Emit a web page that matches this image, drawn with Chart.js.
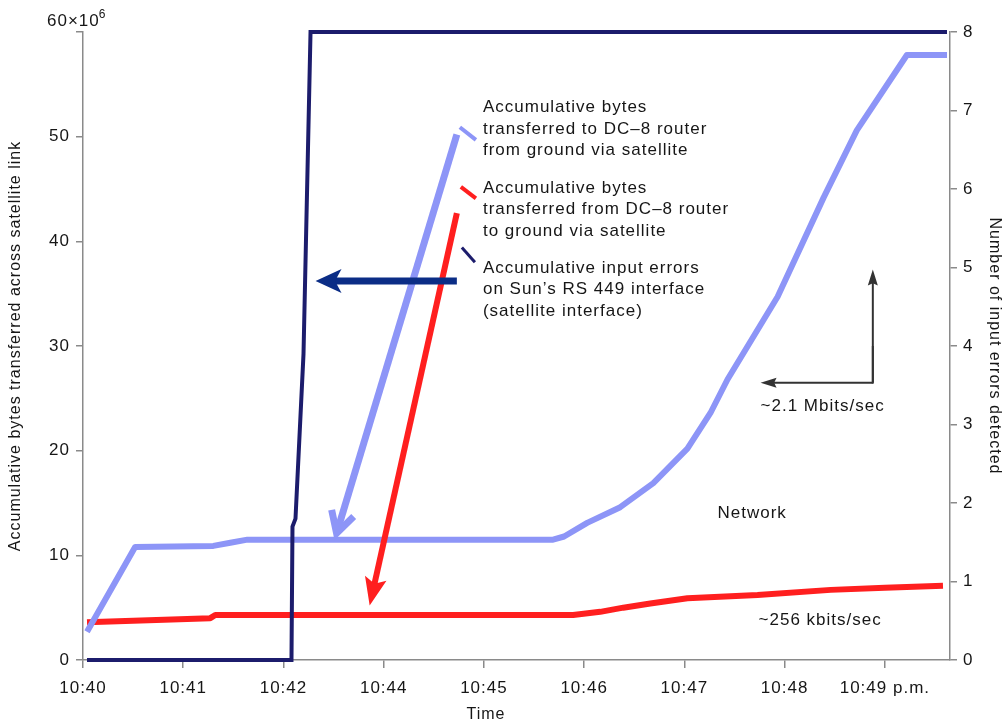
<!DOCTYPE html>
<html><head><meta charset="utf-8">
<script src="https://cdn.jsdelivr.net/npm/chart.js@4.4.1/dist/chart.umd.min.js"></script>
<style>html,body{margin:0;padding:0;background:#fff;}#wrap{width:1006px;height:726px;}</style>
</head><body><div id="wrap"><canvas id="c" width="1006" height="726"></canvas></div>
<script>
// ---- data (x = position along the time axis, one unit per labelled tick) ----
const timeLabels = ['10:40','10:41','10:42','10:44','10:45','10:46','10:47','10:48','10:49 p.m.'];
const toDcX   = [0.04,0.52,1.30,1.47,1.64,4.69,4.80,5.03,5.36,5.69,6.03,6.26,6.43,6.93,7.39,7.72,8.22,8.62];
const toDcY   = [2.7,10.8,10.9,11.2,11.5,11.5,11.8,13.1,14.6,16.9,20.2,23.6,26.8,34.7,44.2,50.6,57.8,57.8];
const fromDcX = [0.04,1.27,1.32,4.89,5.16,5.39,5.66,6.03,6.73,7.46,8.00,8.58];
const fromDcY = [3.6,4.0,4.3,4.3,4.6,5.0,5.4,5.9,6.2,6.7,6.9,7.1];
const errX    = [0.04,2.08,2.09,2.12,2.20,2.27,8.62];
const errY    = [0,0,1.7,1.8,3.9,8,8];

const FONT = '"Liberation Sans", Arial, Helvetica, sans-serif';
const TXT = '#161616';
const AX = '#8a8a8a';
const C_TO = '#8d95f7', C_FROM = '#ff1f1f', C_ERR = '#1c1c6c', C_ERRARROW = '#0b2d86';

const pts = (xs, ys) => xs.map((x, i) => ({x, y: ys[i]}));

const spacing = {
  id: 'spacing',
  beforeUpdate(c) { c.ctx.letterSpacing = '1px'; },
  beforeDraw(c) { c.ctx.letterSpacing = '1px'; }
};

function arrow(ctx, x1, y1, x2, y2, o) {
  const a = Math.atan2(y2 - y1, x2 - x1), ca = Math.cos(a), sa = Math.sin(a);
  ctx.save();
  ctx.strokeStyle = o.color; ctx.fillStyle = o.color; ctx.lineWidth = o.w; ctx.lineCap = 'butt';
  ctx.beginPath(); ctx.moveTo(x1, y1);
  if (o.open) ctx.lineTo(x2 - ca * o.w * 0.6, y2 - sa * o.w * 0.6);
  else ctx.lineTo(x2 - ca * o.hl * 0.6, y2 - sa * o.hl * 0.6);
  ctx.stroke();
  if (o.open) {
    const t = 0.5;
    ctx.lineJoin = 'miter';
    ctx.beginPath();
    ctx.moveTo(x2 - o.hl * Math.cos(a - t), y2 - o.hl * Math.sin(a - t));
    ctx.lineTo(x2, y2);
    ctx.lineTo(x2 - o.hl * Math.cos(a + t), y2 - o.hl * Math.sin(a + t));
    ctx.stroke();
  } else {
    const bx = x2 - ca * o.hl, by = y2 - sa * o.hl;
    const nx = x2 - ca * o.hl * (o.notch || 1), ny = y2 - sa * o.hl * (o.notch || 1);
    ctx.beginPath();
    ctx.moveTo(x2, y2);
    ctx.lineTo(bx - sa * o.hw, by + ca * o.hw);
    ctx.lineTo(nx, ny);
    ctx.lineTo(bx + sa * o.hw, by - ca * o.hw);
    ctx.closePath(); ctx.fill();
  }
  ctx.restore();
}

const notes = {
  id: 'notes',
  afterDatasetsDraw(c) {
    const ctx = c.ctx, X = c.scales.x, Y = c.scales.y;
    const px = v => X.getPixelForValue(v), py = v => Y.getPixelForValue(v);
    ctx.save();
    ctx.letterSpacing = '1px';
    // pointer arrows
    arrow(ctx, px(3.73), py(50.2), px(2.53), py(12.1), {color: C_TO, w: 7, hl: 24, open: true});
    arrow(ctx, px(3.73), py(42.7), px(2.86), py(5.2), {color: C_FROM, w: 6, hl: 28, hw: 11, notch: 0.8});
    arrow(ctx, px(3.73), py(36.2), px(2.32), py(36.2), {color: C_ERRARROW, w: 7, hl: 26, hw: 12, notch: 0.75});
    // rate arrow
    arrow(ctx, px(7.88), py(26.5), px(6.76), py(26.5), {color: '#333', w: 2, hl: 16, hw: 5, notch: 0.85});
    arrow(ctx, px(7.88), py(26.5), px(7.88), py(37.3), {color: '#333', w: 2, hl: 16, hw: 5, notch: 0.85});
    ctx.beginPath(); ctx.strokeStyle = '#333'; ctx.lineWidth = 2;
    ctx.moveTo(px(7.88), py(26.5) + 1); ctx.lineTo(px(7.88), py(30)); ctx.stroke();
    // legend dashes
    const dash = (x1, y1, x2, y2, col, w) => {
      ctx.beginPath(); ctx.strokeStyle = col; ctx.lineWidth = w; ctx.lineCap = 'butt';
      ctx.moveTo(px(x1), py(y1)); ctx.lineTo(px(x2), py(y2)); ctx.stroke();
    };
    dash(3.76, 50.9, 3.92, 49.7, C_TO, 4);
    dash(3.77, 45.2, 3.92, 44.1, C_FROM, 4);
    dash(3.78, 39.4, 3.91, 38.0, C_ERR, 3);
    // texts
    ctx.fillStyle = TXT; ctx.font = '17px ' + FONT; ctx.textBaseline = 'middle'; ctx.textAlign = 'left';
    const block = (x, y, lines) => lines.forEach((s, i) => ctx.fillText(s, px(x), py(y) + i * 21.5));
    block(3.99, 52.8, ['Accumulative bytes', 'transferred to DC\u20138 router', 'from ground via satellite']);
    block(3.99, 45.1, ['Accumulative bytes', 'transferred from DC\u20138 router', 'to ground via satellite']);
    block(3.99, 37.45, ['Accumulative input errors', 'on Sun\u2019s RS 449 interface', '(satellite interface)']);
    ctx.fillText('~2.1 Mbits/sec', px(6.76), py(24.2));
    ctx.fillText('~256 kbits/sec', px(6.74), py(3.8));
    ctx.fillText('Network', px(6.33), py(14.0));
    ctx.restore();
  },
  afterDraw(c) {
    const ctx = c.ctx, X = c.scales.x, Y = c.scales.y;
    ctx.save();
    ctx.letterSpacing = '1px';
    ctx.fillStyle = TXT; ctx.textBaseline = 'middle'; ctx.textAlign = 'left';
    ctx.font = '17px ' + FONT;
    const base = '60\u00d710';
    const x0 = Y.right - 36, y0 = Y.getPixelForValue(60) - 11;
    ctx.fillText(base, x0, y0);
    const w = ctx.measureText(base).width;
    ctx.font = '12px ' + FONT;
    ctx.fillText('6', x0 + w - 1, y0 - 6);
    ctx.font = '16px ' + FONT; ctx.textAlign = 'center';
    ctx.fillText('Time', X.getPixelForValue(4.02), c.height - 11);
    ctx.restore();
  }
};

new Chart(document.getElementById('c'), {
  type: 'line',
  data: {
    datasets: [
      {label: 'Accumulative input errors', data: pts(errX, errY), yAxisID: 'y2', order: 0, clip: 6,
       borderColor: C_ERR, borderWidth: 4, pointRadius: 0, tension: 0, borderJoinStyle: 'miter'},
      {label: 'To DC-8', data: pts(toDcX, toDcY), yAxisID: 'y', order: 1,
       borderColor: C_TO, borderWidth: 6, pointRadius: 0, tension: 0, borderCapStyle: 'butt', borderJoinStyle: 'round'},
      {label: 'From DC-8', data: pts(fromDcX, fromDcY), yAxisID: 'y', order: 2,
       borderColor: C_FROM, borderWidth: 6, pointRadius: 0, tension: 0, borderCapStyle: 'butt', borderJoinStyle: 'round'}
    ]
  },
  options: {
    responsive: false, animation: false, devicePixelRatio: 1,
    layout: {padding: {top: 32, left: 0, right: 0, bottom: 0}},
    plugins: {legend: {display: false}, tooltip: {enabled: false}},
    scales: {
      x: {
        type: 'linear', min: 0, max: 8.65,
        afterBuildTicks: s => { s.ticks = timeLabels.map((_, i) => ({value: i})); },
        afterFit: s => { s.height = 66; },
        ticks: {callback: v => timeLabels[v] ?? '', font: {family: FONT, size: 17}, color: TXT,
                padding: 10, maxRotation: 0, autoSkip: false},
        grid: {drawOnChartArea: false, tickLength: 8, color: AX, lineWidth: 1.5},
        border: {color: AX, width: 1.5}
      },
      y: {
        position: 'left', min: 0, max: 60,
        afterFit: s => { s.width = 83; },
        ticks: {stepSize: 10, callback: v => v === 60 ? '' : v, font: {family: FONT, size: 17}, color: TXT, padding: 6},
        grid: {drawOnChartArea: false, tickLength: 7, color: AX, lineWidth: 1.5},
        border: {color: AX, width: 1.5},
        title: {display: true, text: 'Accumulative bytes transferred across satellite link',
                font: {family: FONT, size: 16}, color: TXT, padding: {top: 6, bottom: 0}}
      },
      y2: {
        position: 'right', min: 0, max: 8,
        afterFit: s => { s.width = 56; },
        ticks: {stepSize: 1, font: {family: FONT, size: 17}, color: TXT, padding: 6},
        grid: {drawOnChartArea: false, tickLength: 7, color: AX, lineWidth: 1.5},
        border: {color: AX, width: 1.5},
        title: {display: true, text: 'Number of input errors detected',
                font: {family: FONT, size: 16}, color: TXT, padding: {top: 2, bottom: 0}}
      }
    }
  },
  plugins: [spacing, notes]
});
</script></body></html>
